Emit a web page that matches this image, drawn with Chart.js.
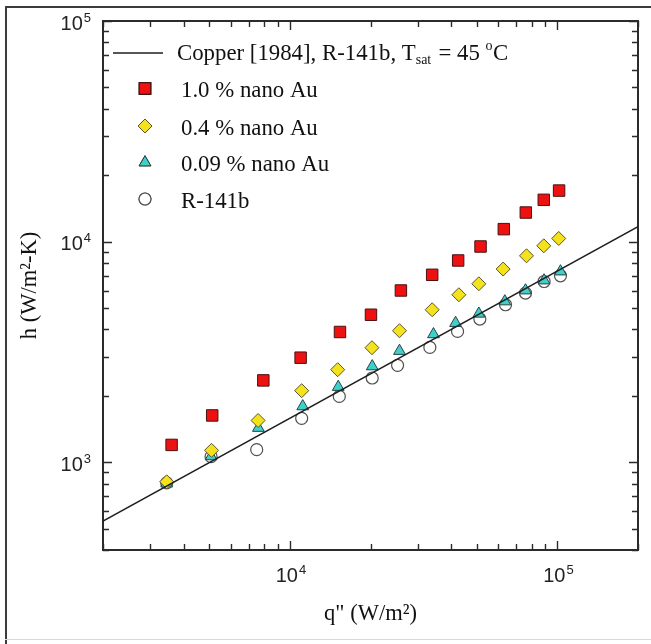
<!DOCTYPE html>
<html>
<head>
<meta charset="utf-8">
<script src="https://cdn.jsdelivr.net/npm/chart.js@4.4.1/dist/chart.umd.min.js"></script>
<style>
  html, body { margin: 0; padding: 0; background: #ffffff; }
  #wrap { position: relative; width: 651px; height: 644px; }
  canvas { display: block; }
</style>
</head>
<body>
<div id="wrap"><canvas id="chart" width="651" height="644"></canvas></div>
<script>
// Pool boiling of R-141b with gold nanoparticles: heat flux q" (W/m2) vs h (W/m2-K)
const seriesNames = ['1.0 % nano Au', '0.4 % nano Au', '0.09 % nano Au', 'R-141b'];

const qAu10 = [3610, 5120, 7950, 10960, 15380, 20080, 25980, 34010, 42530, 51570, 63010, 76140, 88870, 101400];
const hAu10 = [1198, 1629, 2349, 2977, 3893, 4661, 6004, 7072, 8211, 9502, 11390, 13545, 15465, 17035];

const qAu04 = [3460, 5090, 7600, 11060, 15080, 20250, 25670, 34010, 42790, 50820, 62640, 76600, 88870, 101100];
const hAu04 = [815, 1132, 1546, 2110, 2627, 3304, 3945, 4911, 5742, 6440, 7508, 8623, 9571, 10330];

const qAu009 = [3460, 5070, 7620, 11160, 15150, 20300, 25670, 34390, 41590, 50820, 63560, 75940, 89120, 102600];
const hAu009 = [800, 1063, 1430, 1791, 2193, 2719, 3193, 3799, 4274, 4710, 5355, 6004, 6663, 7320];

const qR141b = [3460, 5070, 7510, 11060, 15290, 20300, 25250, 33340, 42310, 51270, 63950, 75940, 89120, 102600];
const hR141b = [806, 1060, 1140, 1581, 1988, 2409, 2748, 3314, 3916, 4457, 5174, 5845, 6594, 7000];

// Cooper correlation for copper surface, R-141b, Tsat = 45 C (straight line on log axes)
const cooperQ = [2000, 200000];
const cooperH = [541, 11700];

// Axis ranges and labelled decades
const xRange = [2000, 200000];
const yRange = [400, 100000];
const xMajorTicks = [1e4, 1e5];
const yMajorTicks = [1e3, 1e4, 1e5];

const toPoints = (xs, ys) => xs.map((x, i) => ({ x: x, y: ys[i] }));

const SERIF = '"Liberation Serif", "Times New Roman", serif';
const SANS = '"Liberation Sans", Arial, sans-serif';
const INK = '#2b2b2b';

// Minor tick values 1..9 x 10^k inside [lo, hi]
function logTicks(lo, hi) {
  const out = [];
  for (let e = Math.floor(Math.log10(lo)); e <= Math.ceil(Math.log10(hi)); e++) {
    for (let m = 1; m <= 9; m++) {
      const v = m * Math.pow(10, e);
      if (v >= lo * 0.9999 && v <= hi * 1.0001) out.push(v);
    }
  }
  return out;
}

function drawPow10(ctx, value, x, y, align) {
  const exp = String(Math.round(Math.log10(value)));
  ctx.font = '20px ' + SANS;
  const wBase = ctx.measureText('10').width;
  ctx.font = '13px ' + SANS;
  const wExp = ctx.measureText(exp).width + 1;
  const total = wBase + wExp;
  let x0 = align === 'right' ? x - total : x - total / 2;
  ctx.fillStyle = '#222';
  ctx.textAlign = 'left';
  ctx.textBaseline = 'alphabetic';
  ctx.font = '20px ' + SANS;
  ctx.fillText('10', x0, y);
  ctx.font = '13px ' + SANS;
  ctx.fillText(exp, x0 + wBase + 1, y - 8);
}

const framePlugin = {
  id: 'frame',
  beforeDraw(chart) {
    const ctx = chart.ctx;
    ctx.save();
    ctx.fillStyle = '#ffffff';
    ctx.fillRect(0, 0, chart.width, chart.height);
    // outer figure border
    ctx.fillStyle = '#3c3c3c';
    ctx.fillRect(5, 6, chart.width - 5, 2);
    ctx.fillRect(5, 6, 2, chart.height - 6);
    ctx.fillStyle = '#d8d8d8';
    ctx.fillRect(5, chart.height - 5, chart.width - 5, 1);
    ctx.restore();
  },
  beforeDatasetsDraw(chart) {
    const ctx = chart.ctx;
    const a = chart.chartArea;
    const xs = chart.scales.x, ys = chart.scales.y;
    ctx.save();
    ctx.strokeStyle = INK;
    // inward ticks on all four sides
    ctx.lineWidth = 1.4;
    ctx.beginPath();
    logTicks(xRange[0], xRange[1]).forEach(v => {
      const px = Math.round(xs.getPixelForValue(v)) + 0.5;
      const len = xMajorTicks.includes(v) ? 9 : 6;
      ctx.moveTo(px, a.bottom); ctx.lineTo(px, a.bottom - len);
      ctx.moveTo(px, a.top); ctx.lineTo(px, a.top + len);
    });
    logTicks(yRange[0], yRange[1]).forEach(v => {
      const py = Math.round(ys.getPixelForValue(v)) + 0.5;
      const len = yMajorTicks.includes(v) ? 9 : 6;
      ctx.moveTo(a.left, py); ctx.lineTo(a.left + len, py);
      ctx.moveTo(a.right, py); ctx.lineTo(a.right - len, py);
    });
    ctx.stroke();
    // plot frame
    ctx.lineWidth = 2;
    ctx.strokeRect(a.left, a.top, a.right - a.left, a.bottom - a.top);
    ctx.restore();
  },
  afterDraw(chart) {
    const ctx = chart.ctx;
    const a = chart.chartArea;
    const xs = chart.scales.x, ys = chart.scales.y;
    ctx.save();
    // decade labels
    xMajorTicks.forEach(v => drawPow10(ctx, v, xs.getPixelForValue(v) + 1, a.bottom + 32, 'center'));
    yMajorTicks.forEach(v => drawPow10(ctx, v, a.left - 12, ys.getPixelForValue(v) + 8.5, 'right'));

    // axis titles
    ctx.fillStyle = '#111';
    ctx.font = '22.5px ' + SERIF;
    ctx.textAlign = 'center';
    ctx.textBaseline = 'alphabetic';
    ctx.fillText('q" (W/m\u00B2)', (a.left + a.right) / 2, 620);
    ctx.save();
    ctx.translate(36, (a.top + a.bottom) / 2);
    ctx.rotate(-Math.PI / 2);
    ctx.fillText('h (W/m\u00B2-K)', 0, 0);
    ctx.restore();

    // legend
    const lx = 145, tx = 181;
    const rows = [53, 88.5, 126, 162.5, 199];
    // line entry
    const lineDs = chart.data.datasets[0];
    ctx.strokeStyle = lineDs.borderColor;
    ctx.lineWidth = lineDs.borderWidth;
    ctx.beginPath();
    ctx.moveTo(113, rows[0]); ctx.lineTo(163, rows[0]);
    ctx.stroke();
    ctx.fillStyle = '#111';
    ctx.textAlign = 'left';
    let cx = 177;
    const base0 = rows[0] + 6.5;
    const put = (s, size, dy) => {
      ctx.font = size + 'px ' + SERIF;
      ctx.fillText(s, cx, base0 + dy);
      cx += ctx.measureText(s).width;
    };
    put('Copper [1984], R-141b, T', 22.8, 0);
    put('sat', 14, 4);
    cx += 1.5;
    put(' = 45 ', 22.8, 0);
    put('o', 14, -10);
    cx += 0.5;
    put('C', 22.8, 0);

    // marker entries
    for (let i = 1; i <= 4; i++) {
      const ds = chart.data.datasets[i];
      Chart.helpers.drawPoint(ctx, {
        pointStyle: ds.pointStyle,
        radius: ds.pointRadius,
        rotation: 0,
        borderWidth: ds.pointBorderWidth
      }, lx, rows[i]);
      ctx.fillStyle = ds.pointBackgroundColor;
      ctx.strokeStyle = ds.pointBorderColor;
      ctx.lineWidth = ds.pointBorderWidth;
      ctx.fill();
      ctx.stroke();
      ctx.fillStyle = '#111';
      ctx.font = '22.8px ' + SERIF;
      ctx.fillText(ds.label, tx, rows[i] + 8.5);
    }
    ctx.restore();
  }
};

new Chart(document.getElementById('chart'), {
  type: 'scatter',
  data: {
    datasets: [
      {
        label: 'Copper [1984], R-141b, Tsat = 45 \u00B0C',
        type: 'line',
        data: toPoints(cooperQ, cooperH),
        borderColor: '#1e1e1e',
        borderWidth: 1.5,
        pointRadius: 0,
        fill: false
      },
      {
        label: seriesNames[0],
        data: toPoints(qAu10, hAu10),
        pointStyle: 'rect',
        pointRadius: 8.1,
        pointBackgroundColor: '#ee1111',
        pointBorderColor: '#4a1010',
        pointBorderWidth: 1
      },
      {
        label: seriesNames[1],
        data: toPoints(qAu04, hAu04),
        pointStyle: 'rectRot',
        pointRadius: 7,
        pointBackgroundColor: '#f4e21c',
        pointBorderColor: '#5a5530',
        pointBorderWidth: 1
      },
      {
        label: seriesNames[2],
        data: toPoints(qAu009, hAu009),
        pointStyle: 'triangle',
        pointRadius: 6.8,
        pointBackgroundColor: '#3fcfcc',
        pointBorderColor: '#2a4444',
        pointBorderWidth: 1
      },
      {
        label: seriesNames[3],
        data: toPoints(qR141b, hR141b),
        pointStyle: 'circle',
        pointRadius: 6,
        pointBackgroundColor: '#ffffff',
        pointBorderColor: '#505050',
        pointBorderWidth: 1.2
      }
    ]
  },
  options: {
    responsive: false,
    devicePixelRatio: 1,
    animation: false,
    layout: { padding: { left: 103, right: 13, top: 21, bottom: 94 } },
    plugins: {
      legend: { display: false },
      tooltip: { enabled: false }
    },
    scales: {
      x: { type: 'logarithmic', min: xRange[0], max: xRange[1], display: false },
      y: { type: 'logarithmic', min: yRange[0], max: yRange[1], display: false }
    }
  },
  plugins: [framePlugin]
});
</script>
</body>
</html>
